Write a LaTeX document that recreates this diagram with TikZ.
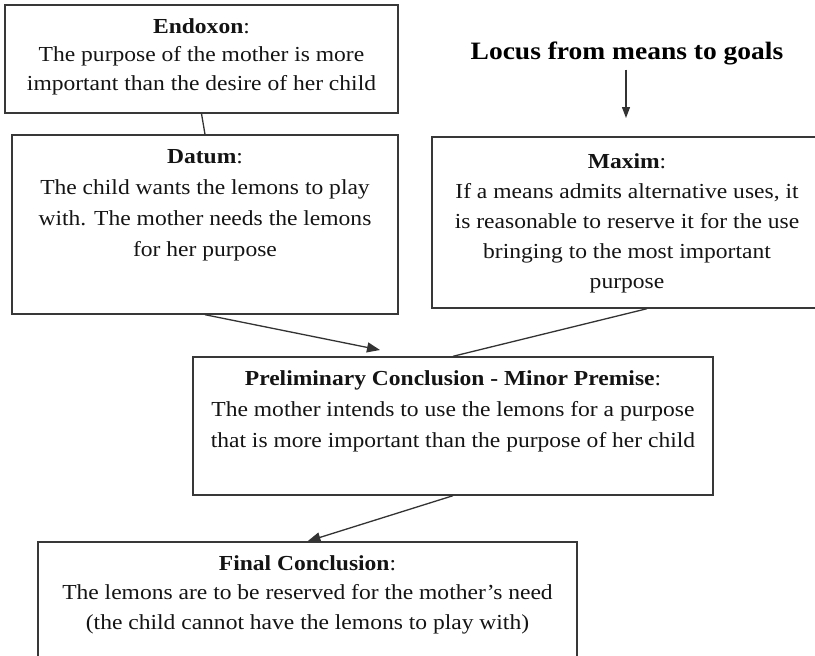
\documentclass[tikz,border=0pt]{standalone}
\usepackage{fontspec}
\setmainfont{Liberation Serif}[FakeStretch=1.1]
\usetikzlibrary{arrows.meta,calc}
\begin{document}
\begin{tikzpicture}[x=1pt,y=-1pt,
  box/.style={draw=black!78, line width=1.4pt, inner sep=0pt, rectangle, fill=none},
  txt/.style={anchor=north, align=center, inner sep=0pt, text=black!92},
  link/.style={draw=black!80, line width=1.3pt},
  arr/.style={link, -{Triangle[length=13pt,width=10pt]}}]
\useasboundingbox (0,0) rectangle (815,656);
\fill[white] (0,0) rectangle (815,656);

% boxes
\node[box, minimum width=393, minimum height=108] (endoxon) at (201.5,59) {};
\node[box, minimum width=386, minimum height=179] (datum) at (205,224.5) {};
\node[box, minimum width=390, minimum height=171] (maxim) at (627,222.5) {};
\node[box, minimum width=520, minimum height=138] (prelim) at (453,426) {};
\node[box, minimum width=539, minimum height=115] (final) at (307.5,599.5) {};

% texts
\node[txt, font=\fontsize{21.4}{28.5}\selectfont] (tendoxon) at (201.5,18)
  {\rule{0pt}{15pt}\textbf{Endoxon}:\\The purpose of the mother is more\\important than the desire of her child};
\node[txt, font=\fontsize{21.4}{31}\selectfont] (tdatum) at (205,148)
  {\rule{0pt}{15pt}\textbf{Datum}:\\The child wants the lemons to play\\with. The mother needs the lemons\\for her purpose};
\node[txt, font=\fontsize{21.4}{30}\selectfont] (tmaxim) at (627,153)
  {\rule{0pt}{15pt}\textbf{Maxim}:\\If a means admits alternative uses, it\\is reasonable to reserve it for the use\\bringing to the most important\\purpose};
\node[txt, font=\fontsize{21.4}{31}\selectfont] (tprelim) at (453,370)
  {\rule{0pt}{15pt}\textbf{Preliminary Conclusion - Minor Premise}:\\The mother intends to use the lemons for a purpose\\that is more important than the purpose of her child};
\node[txt, font=\fontsize{21.4}{29.5}\selectfont] (tfinal) at (307.5,555)
  {\rule{0pt}{15pt}\textbf{Final Conclusion}:\\The lemons are to be reserved for the mother’s need\\(the child cannot have the lemons to play with)};

% locus heading
\node[anchor=base, inner sep=0pt, font=\fontsize{25}{28}\selectfont\bfseries] (locus) at (627,59) {Locus from means to goals};
\coordinate (locusend) at (626,118);
\coordinate (datumtip) at (380,350);

% connectors
\draw[link] (endoxon.south) -- (datum.north);
\draw[link, -{Triangle[length=11pt,width=8pt]}, shorten <=5pt] (locus.south -| locusend) -- (locusend);
\draw[arr] (datum.south) -- (datumtip);
\draw[link] ($(maxim.south)+(20,0)$) -- (prelim.north);
\draw[arr] (prelim.south) -- (final.north);
\end{tikzpicture}
\end{document}
